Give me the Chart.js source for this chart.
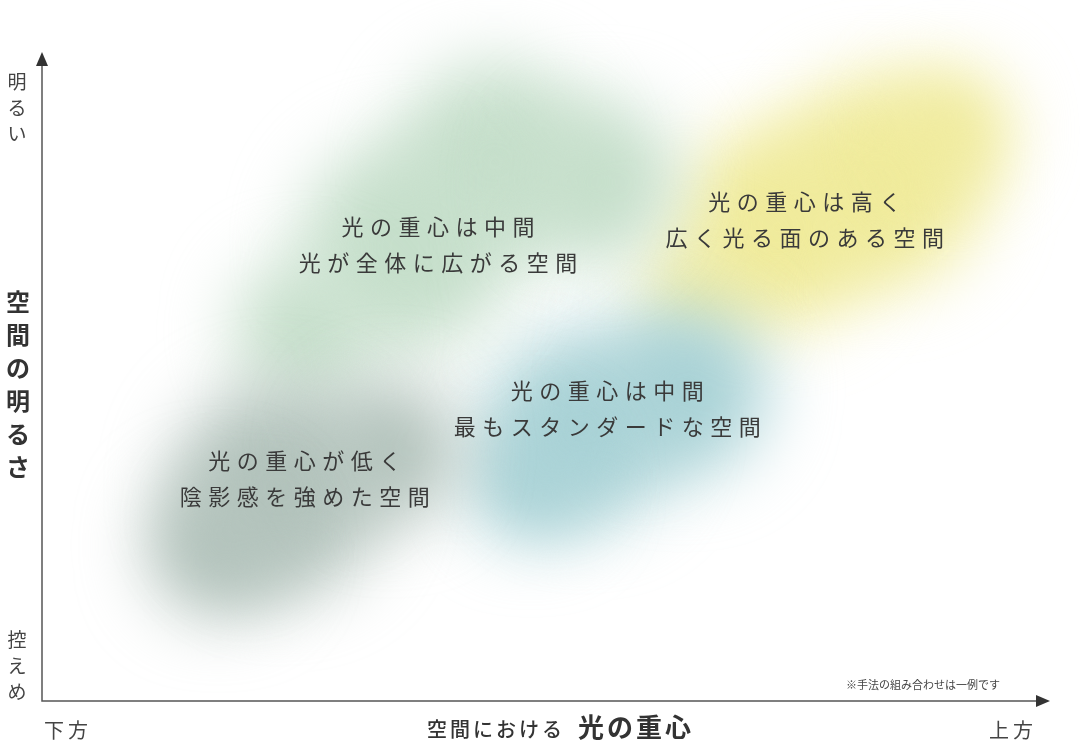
<!DOCTYPE html>
<html lang="ja">
<head>
<meta charset="utf-8">
<script src="https://cdn.jsdelivr.net/npm/chart.js@4/dist/chart.umd.min.js"></script>
<style>
  body { margin: 0; background: #fff; }
  #wrap { width: 1080px; height: 752px; }
</style>
</head>
<body>
<div id="wrap"><canvas id="myChart" width="1080" height="752"></canvas></div>
<script>
// blob centres (x = 光の重心 0-10, y = 空間の明るさ 0-10) and bubble value
const grayBlob = [
  { x: 2.35, y: 3.25, r: 105 },
  { x: 3.45, y: 3.85, r: 70 },
  { x: 1.75, y: 2.4, r: 70 },
];
const greenBlob = [
  { x: 4.5, y: 8.3, r: 100 },
  { x: 3.6, y: 7.0, r: 105 },
  { x: 2.6, y: 5.7, r: 70 },
  { x: 5.5, y: 8.0, r: 80 },
];
const blueBlob = [
  { x: 5.35, y: 4.2, r: 95 },
  { x: 6.35, y: 4.8, r: 85 },
  { x: 4.85, y: 3.4, r: 60 },
];
const yellowBlob = [
  { x: 8.3, y: 8.0, r: 105 },
  { x: 7.3, y: 7.3, r: 100 },
  { x: 9.0, y: 8.8, r: 60 },
  { x: 6.5, y: 6.3, r: 50 },
];

const regionLabels = [
  ["光の重心が低く", "陰影感を強めた空間"],
  ["光の重心は中間", "光が全体に広がる空間"],
  ["光の重心は中間", "最もスタンダードな空間"],
  ["光の重心は高く", "広く光る面のある空間"],
];
const regionX = [2.61, 3.93, 5.61, 7.57];
const regionY = [3.42, 7.03, 4.51, 7.41];

const yTitle = "空間の明るさ";
const yHigh = "明るい";
const yLow = "控えめ";
const xLow = "下方";
const xHigh = "上方";
const note = "※手法の組み合わせは一例です";

const FONT = '"Noto Sans CJK JP", "Noto Sans", sans-serif';

// bubbles are blurred into soft blobs, so don't let their radius shrink the chart area
class BlobController extends Chart.BubbleController {
  getMaxOverflow() { return false; }
}
BlobController.id = 'blob';
BlobController.defaults = Chart.BubbleController.defaults;
BlobController.overrides = Chart.BubbleController.overrides;
Chart.register(BlobController);

const blurPlugin = {
  id: 'blur',
  beforeDatasetsDraw(chart) {
    chart.ctx.save();
    chart.ctx.filter = 'blur(34px)';
  },
  afterDatasetsDraw(chart) {
    chart.ctx.restore();
  }
};

function vertical(ctx, text, x, y, step) {
  for (let i = 0; i < text.length; i++) {
    ctx.fillText(text[i], x, y + i * step);
  }
}

const textPlugin = {
  id: 'texts',
  afterDraw(chart) {
    const ctx = chart.ctx;
    const a = chart.chartArea;
    const xs = chart.scales.x, ys = chart.scales.y;
    ctx.save();

    // axes with arrows
    ctx.strokeStyle = '#555';
    ctx.fillStyle = '#333';
    ctx.lineWidth = 1.5;
    ctx.beginPath();
    ctx.moveTo(a.left, a.top + 10);
    ctx.lineTo(a.left, a.bottom);
    ctx.lineTo(a.right - 10, a.bottom);
    ctx.stroke();
    ctx.beginPath();
    ctx.moveTo(a.left, a.top);
    ctx.lineTo(a.left - 6, a.top + 14);
    ctx.lineTo(a.left + 6, a.top + 14);
    ctx.closePath();
    ctx.fill();
    ctx.beginPath();
    ctx.moveTo(a.right, a.bottom);
    ctx.lineTo(a.right - 14, a.bottom - 6);
    ctx.lineTo(a.right - 14, a.bottom + 6);
    ctx.closePath();
    ctx.fill();

    // region labels
    ctx.fillStyle = '#3a3a3a';
    ctx.textAlign = 'center';
    ctx.textBaseline = 'middle';
    ctx.font = '400 22px ' + FONT;
    ctx.letterSpacing = '6.5px';
    regionLabels.forEach((lines, i) => {
      const cx = xs.getPixelForValue(regionX[i]) + 3;
      const cy = ys.getPixelForValue(regionY[i]);
      ctx.fillText(lines[0], cx, cy - 18);
      ctx.fillText(lines[1], cx, cy + 18);
    });
    ctx.letterSpacing = '0px';

    // y axis texts
    ctx.fillStyle = '#444';
    ctx.font = '400 19px ' + FONT;
    vertical(ctx, yHigh, 17, 82, 26);
    vertical(ctx, yLow, 17, 640, 26);
    ctx.fillStyle = '#333';
    ctx.font = '700 24px ' + FONT;
    vertical(ctx, yTitle, 18, 302, 33);

    // x axis texts
    ctx.fillStyle = '#444';
    ctx.font = '400 20px ' + FONT;
    ctx.letterSpacing = '4px';
    ctx.textAlign = 'left';
    ctx.fillText(xLow, 44, 730);
    ctx.fillText(xHigh, 989, 730);
    ctx.fillStyle = '#333';
    ctx.font = '500 20px ' + FONT;
    ctx.letterSpacing = '3px';
    ctx.fillText("空間における", 427, 729);
    ctx.font = '700 26px ' + FONT;
    ctx.fillText("光の重心", 578, 727);
    ctx.letterSpacing = '0px';

    // note
    ctx.fillStyle = '#444';
    ctx.font = '400 11px ' + FONT;
    ctx.fillText(note, 846, 685);
    ctx.restore();
  }
};

const data = {
  datasets: [
    { label: 'gray', data: grayBlob, backgroundColor: '#b3c3bc' },
    { label: 'green', data: greenBlob, backgroundColor: '#c6dfcb' },
    { label: 'blue', data: blueBlob, backgroundColor: '#a9d2d6' },
    { label: 'yellow', data: yellowBlob, backgroundColor: '#f0eb9c' },
  ].map(d => Object.assign(d, { borderWidth: 0, clip: false }))
};

const config = {
  type: 'blob',
  data: data,
  options: {
    responsive: false,
    animation: false,
    events: [],
    layout: { padding: { left: 42, right: 30, top: 52, bottom: 51 } },
    plugins: { legend: { display: false }, tooltip: { enabled: false } },
    scales: {
      x: { type: 'linear', min: 0, max: 10, display: false },
      y: { type: 'linear', min: 0, max: 10, display: false },
    }
  },
  plugins: [blurPlugin, textPlugin]
};

window.onload = function () {
  const ctx = document.getElementById('myChart').getContext('2d');
  new Chart(ctx, config);
};
</script>
</body>
</html>
